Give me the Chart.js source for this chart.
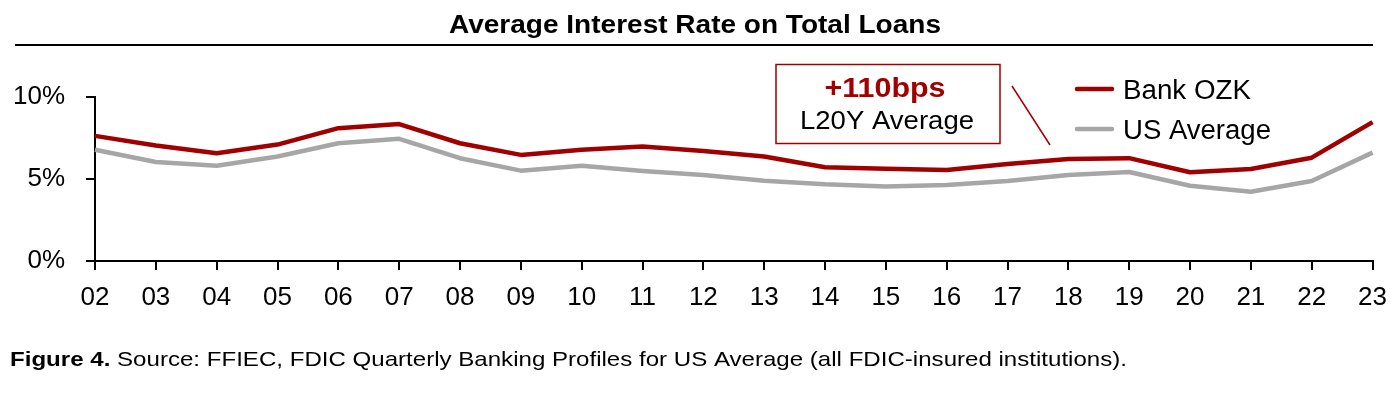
<!DOCTYPE html>
<html>
<head>
<meta charset="utf-8">
<script src="https://cdn.jsdelivr.net/npm/chart.js@4.4.0/dist/chart.umd.min.js"></script>
<style>
  body { margin: 0; background: #fff; }
  #wrap { width: 1399px; height: 399px; position: relative; }
</style>
</head>
<body>
<div id="wrap"><canvas id="loanRateChart"></canvas></div>
<script>
// Data
const years = ['02', '03', '04', '05', '06', '07', '08', '09', '10', '11', '12',
               '13', '14', '15', '16', '17', '18', '19', '20', '21', '22', '23'];
const bankOzk = [7.63, 7.04, 6.57, 7.10, 8.10, 8.35, 7.18, 6.47, 6.79, 6.98, 6.71,
                 6.37, 5.72, 5.63, 5.55, 5.92, 6.22, 6.27, 5.41, 5.61, 6.30, 8.47];
const usAverage = [6.78, 6.04, 5.81, 6.37, 7.18, 7.45, 6.27, 5.51, 5.81, 5.49, 5.24,
                   4.90, 4.68, 4.55, 4.63, 4.88, 5.24, 5.43, 4.59, 4.22, 4.88, 6.61];
const yTicks = [0, 5, 10];

const RED = '#A00000';
const GREY = '#A6A6A6';
const FONT = 'Arial, "Liberation Sans", sans-serif';

// draw text squeezed/stretched horizontally to a given width
function fitText(ctx, text, x, y, width, align) {
    const w = ctx.measureText(text).width;
    ctx.save();
    ctx.translate(x, y);
    ctx.scale(width / w, 1);
    ctx.textAlign = align;
    ctx.fillText(text, 0, 0);
    ctx.restore();
}

// title, rule, callout box, legend and footnote
const decor = {
    id: 'decor',
    afterDraw(chart) {
        const ctx = chart.ctx;
        ctx.save();
        ctx.textBaseline = 'alphabetic';

        // title + rule under it
        ctx.fillStyle = '#000';
        ctx.font = 'bold 26px ' + FONT;
        fitText(ctx, 'Average Interest Rate on Total Loans', 695, 33, 492, 'center');
        ctx.strokeStyle = '#000';
        ctx.lineWidth = 2;
        ctx.beginPath();
        ctx.moveTo(15, 45);
        ctx.lineTo(1373, 45);
        ctx.stroke();

        // callout box
        ctx.strokeStyle = RED;
        ctx.lineWidth = 1.5;
        ctx.strokeRect(776, 64.5, 224, 79);
        ctx.fillStyle = RED;
        ctx.font = 'bold 27px ' + FONT;
        fitText(ctx, '+110bps', 885, 97, 121, 'center');
        ctx.fillStyle = '#000';
        ctx.font = '26px ' + FONT;
        fitText(ctx, 'L20Y Average', 887, 128.5, 174, 'center');
        ctx.strokeStyle = RED;
        ctx.lineWidth = 1.5;
        ctx.beginPath();
        ctx.moveTo(1012, 86);
        ctx.lineTo(1050, 145);
        ctx.stroke();

        // legend
        const items = [['Bank OZK', RED, 89, 128], ['US Average', GREY, 129, 148]];
        ctx.lineCap = 'round';
        ctx.lineWidth = 4.5;
        ctx.font = '27px ' + FONT;
        items.forEach(([label, color, y, w]) => {
            ctx.strokeStyle = color;
            ctx.beginPath();
            ctx.moveTo(1077, y);
            ctx.lineTo(1112, y);
            ctx.stroke();
            ctx.fillStyle = '#000';
            fitText(ctx, label, 1123, y + 10, w, 'left');
        });

        // footnote: bold lead + regular text, stretched together
        const lead = 'Figure 4. ';
        const rest = 'Source: FFIEC, FDIC Quarterly Banking Profiles for US Average (all FDIC-insured institutions).';
        ctx.font = 'bold 21px ' + FONT;
        const wLead = ctx.measureText(lead).width;
        ctx.font = '21px ' + FONT;
        const wRest = ctx.measureText(rest).width;
        const sx = 1117 / (wLead + wRest);
        ctx.save();
        ctx.translate(10, 365.5);
        ctx.scale(sx, 1);
        ctx.textAlign = 'left';
        ctx.font = 'bold 21px ' + FONT;
        ctx.fillText(lead, 0, 0);
        ctx.font = '21px ' + FONT;
        ctx.fillText(rest, wLead, 0);
        ctx.restore();

        ctx.restore();
    }
};

const ctx = document.getElementById('loanRateChart').getContext('2d');
new Chart(ctx, {
    type: 'line',
    data: {
        labels: years,
        datasets: [
            {
                label: 'US Average',
                data: usAverage,
                borderColor: GREY,
                borderWidth: 4.5,
                pointRadius: 0,
                tension: 0,
                borderJoinStyle: 'round',
                fill: false
            },
            {
                label: 'Bank OZK',
                data: bankOzk,
                borderColor: RED,
                borderWidth: 4.5,
                pointRadius: 0,
                tension: 0,
                borderJoinStyle: 'round',
                fill: false
            }
        ]
    },
    options: {
        responsive: true,
        maintainAspectRatio: false,
        animation: false,
        layout: { padding: { top: 97, right: 25, left: 0, bottom: 0 } },
        plugins: {
            legend: { display: false },
            title: { display: false },
            tooltip: { enabled: false }
        },
        scales: {
            x: {
                offset: false,
                border: { color: '#000', width: 2 },
                grid: { drawOnChartArea: false, tickLength: 9, color: '#000', lineWidth: 2 },
                ticks: {
                    color: '#000',
                    font: { family: FONT, size: 26 },
                    padding: 12,
                    maxRotation: 0,
                    autoSkip: false
                },
                afterFit(scale) { scale.height = 138; }
            },
            y: {
                min: 0,
                max: 10,
                border: { color: '#000', width: 2 },
                grid: { drawOnChartArea: false, tickLength: 9, color: '#000', lineWidth: 2 },
                afterBuildTicks(scale) {
                    scale.ticks = yTicks.map(v => ({ value: v }));
                },
                ticks: {
                    color: '#000',
                    font: { family: FONT, size: 26 },
                    padding: 21,
                    callback: v => v + '%'
                },
                afterFit(scale) { scale.width = 95; }
            }
        }
    },
    plugins: [decor]
});
</script>
</body>
</html>
